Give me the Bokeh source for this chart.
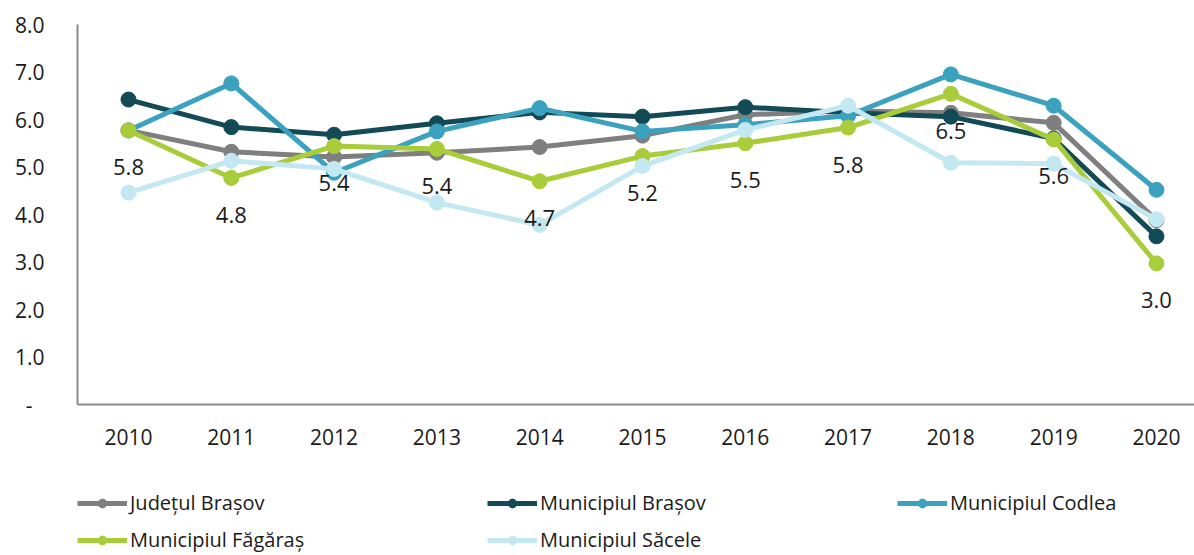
from bokeh.plotting import figure
from bokeh.layouts import column
from bokeh.models import (Range1d, FixedTicker, Legend, LegendItem, ColumnDataSource)
from bokeh.core.properties import value
from bokeh.embed import file_html
from bokeh.resources import INLINE

years = [2010, 2011, 2012, 2013, 2014, 2015, 2016, 2017, 2018, 2019, 2020]
judetul_brasov = [5.77, 5.32, 5.21, 5.30, 5.42, 5.66, 6.10, 6.18, 6.14, 5.93, 3.88]
municipiul_brasov = [6.42, 5.84, 5.68, 5.92, 6.15, 6.06, 6.26, 6.14, 6.06, 5.60, 3.54]
municipiul_codlea = [5.77, 6.76, 4.88, 5.75, 6.24, 5.75, 5.89, 6.08, 6.95, 6.29, 4.52]
municipiul_fagaras = [5.77, 4.77, 5.44, 5.38, 4.70, 5.23, 5.50, 5.83, 6.54, 5.58, 2.97]
municipiul_sacele = [4.46, 5.13, 4.96, 4.25, 3.78, 5.02, 5.78, 6.29, 5.09, 5.07, 3.90]

series_names = ["Județul Brașov", "Municipiul Brașov", "Municipiul Codlea",
                "Municipiul Făgăraș", "Municipiul Săcele"]
series_values = [judetul_brasov, municipiul_brasov, municipiul_codlea,
                 municipiul_fagaras, municipiul_sacele]
colors = ["#7f7f7f", "#124a55", "#3aa2bf", "#a9cc3a", "#c4e8f2"]

y_ticks = [0, 1, 2, 3, 4, 5, 6, 7, 8]
y_tick_labels = ["-\u2007", "1.0", "2.0", "3.0", "4.0", "5.0", "6.0", "7.0", "8.0"]

FONT = "Open Sans"

# main chart
p = figure(width=1194, height=470, output_backend="svg", toolbar_location=None,
           x_range=Range1d(2009.504, 2020.37), y_range=Range1d(0, 8),
           min_border_left=77, min_border_right=0, min_border_top=24,
           min_border_bottom=66)
p.outline_line_color = None
p.xgrid.visible = False
p.ygrid.visible = False

# legend host figure (series drawn outside its visible ranges)
q = figure(width=1194, height=85, output_backend="svg", toolbar_location=None,
           x_range=Range1d(-10, -9), y_range=Range1d(-10, -9),
           x_axis_location=None, y_axis_location=None,
           min_border_left=0, min_border_right=0, min_border_top=0,
           min_border_bottom=0)
q.outline_line_color = None
q.xgrid.visible = False
q.ygrid.visible = False

items = []
for name, vals, col in zip(series_names, series_values, colors):
    src = ColumnDataSource(dict(x=years, y=vals))
    p.line("x", "y", source=src, line_color=col, line_width=5)
    p.scatter("x", "y", source=src, size=15, fill_color=col, line_color=col)
    lq = q.line("x", "y", source=src, line_color=col, line_width=5)
    sq = q.scatter("x", "y", source=src, size=11, fill_color=col, line_color=col)
    items.append(LegendItem(label=name, renderers=[lq, sq]))

lab_src = ColumnDataSource(dict(x=years, y=municipiul_fagaras,
                                t=[f"{v:.1f}" for v in municipiul_fagaras]))
p.text("x", "y", text="t", source=lab_src, text_align="center",
       text_baseline="middle", y_offset=37, text_font=value(FONT),
       text_font_size="22px", text_color="#1a1a1a")

p.xaxis.ticker = FixedTicker(ticks=years)
p.xaxis.major_label_overrides = {y: str(y) for y in years}
p.yaxis.ticker = FixedTicker(ticks=y_ticks)
p.yaxis.major_label_overrides = {t: l for t, l in zip(y_ticks, y_tick_labels)}
for ax in (p.xaxis, p.yaxis):
    ax.axis_line_color = "#8c8c8c"
    ax.axis_line_width = 2
    ax.major_tick_line_color = None
    ax.minor_tick_line_color = None
    ax.major_tick_out = 0
    ax.major_tick_in = 0
    ax.major_label_text_font = FONT
    ax.major_label_text_font_size = "21px"
    ax.major_label_text_color = "#1a1a1a"
p.yaxis.major_label_standoff = 33
p.xaxis.major_label_standoff = 24

legend = Legend(items=items, ncols=3, location=(0, 2), orientation="horizontal",
                glyph_width=50, glyph_height=22, label_height=22, label_standoff=3,
                label_width=347, spacing=10, padding=0, margin=0,
                label_text_font=FONT, label_text_font_size="20px",
                label_text_color="#1a1a1a",
                border_line_color=None, background_fill_alpha=0)
q.add_layout(legend, "center")

open("out.html", "w").write(file_html(column(p, q, spacing=0), INLINE))
